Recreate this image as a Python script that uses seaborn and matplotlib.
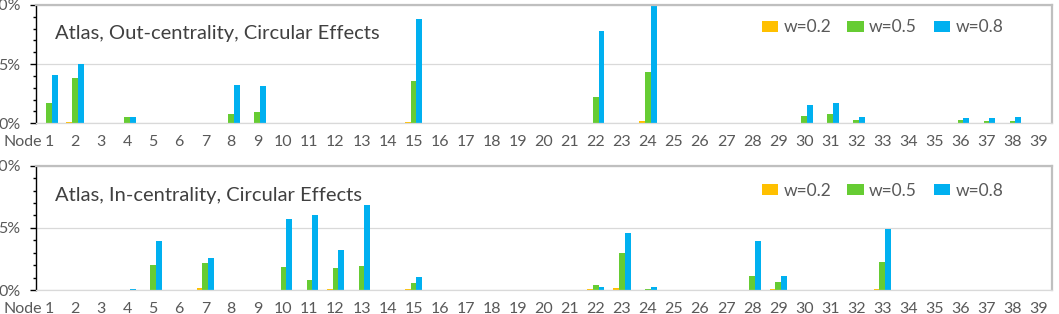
import numpy as np
import pandas as pd
import seaborn as sns
import matplotlib.pyplot as plt
from matplotlib.patches import Patch
from matplotlib.ticker import MultipleLocator, FuncFormatter

nodes = list(range(1, 40))
weights = ['w=0.2', 'w=0.5', 'w=0.8']
colors = ['#FFC000', '#66CC33', '#00B0F0']

# out-centrality, values in percent
out_w02 = [0, 0.14, 0, 0, 0, 0, 0, 0, 0, 0, 0, 0.03, 0, 0, 0.10, 0, 0, 0.02, 0, 0,
           0, 0.03, 0, 0.20, 0, 0, 0.02, 0, 0, 0, 0, 0, 0, 0, 0, 0, 0.05, 0, 0]
out_w05 = [1.75, 3.83, 0, 0.54, 0, 0, 0, 0.82, 0.99, 0, 0, 0, 0, 0, 3.58, 0, 0, 0, 0, 0,
           0, 2.25, 0, 4.37, 0, 0, 0, 0, 0, 0.65, 0.76, 0.31, 0, 0, 0, 0.25, 0.17, 0.20, 0]
out_w08 = [4.06, 5.04, 0.05, 0.54, 0.04, 0.04, 0.05, 3.21, 3.15, 0.02, 0.03, 0.02, 0, 0.02, 8.82,
           0.03, 0, 0.02, 0.03, 0, 0, 7.83, 0, 10.0, 0.04, 0, 0.03, 0, 0.03, 1.58, 1.75, 0.54,
           0, 0.04, 0.04, 0.48, 0.45, 0.54, 0.03]

# in-centrality, values in percent
in_w02 = [0.04, 0, 0.03, 0, 0.05, 0.03, 0.16, 0, 0, 0.06, 0, 0.08, 0, 0, 0.10, 0.03, 0, 0.04, 0, 0,
          0, 0.10, 0.16, 0.03, 0, 0, 0.03, 0.05, 0.10, 0, 0, 0, 0.13, 0, 0, 0, 0, 0, 0]
in_w05 = [0, 0, 0, 0, 2.00, 0, 2.22, 0, 0, 1.90, 0.86, 1.79, 1.95, 0, 0.56, 0, 0, 0, 0, 0,
          0, 0.43, 3.02, 0.10, 0, 0, 0, 1.12, 0.67, 0, 0, 0, 2.30, 0, 0, 0, 0, 0, 0]
in_w08 = [0.03, 0.03, 0.05, 0.07, 3.96, 0.05, 2.59, 0, 0, 5.72, 6.04, 3.24, 6.82, 0, 1.10, 0.06,
          0, 0.03, 0, 0.03, 0, 0.27, 4.63, 0.24, 0, 0, 0.04, 3.98, 1.18, 0.05, 0.03, 0, 4.95,
          0.04, 0, 0.04, 0, 0, 0]

panels = [
    ('Atlas, Out-centrality, Circular Effects', [out_w02, out_w05, out_w08]),
    ('Atlas, In-centrality, Circular Effects', [in_w02, in_w05, in_w08]),
]

plt.rcParams['font.family'] = ['Lato', 'DejaVu Sans']

fig = plt.figure(figsize=(10.59, 3.14), dpi=100)
axes_pos = [[0.034, 0.6075, 0.959, 0.3768], [0.034, 0.0755, 0.959, 0.397]]
node_y = [1 - 142 / 314, 1 - 309 / 314]
legend_y = [0.81, 0.80]

for (title, series), pos, ny, ly in zip(panels, axes_pos, node_y, legend_y):
    ax = fig.add_axes(pos)
    df = pd.DataFrame({
        'node': np.tile(nodes, 3),
        'value': np.concatenate(series),
        'w': np.repeat(weights, len(nodes)),
    })
    sns.barplot(data=df, x='node', y='value', hue='w', palette=colors,
                width=0.66, saturation=1, ax=ax, errorbar=None, legend=False)
    ax.set_ylim(0, 10)
    ax.set_xlim(-0.5, 38.5)
    ax.set_xlabel('')
    ax.set_ylabel('')
    ax.yaxis.set_major_locator(MultipleLocator(5))
    ax.yaxis.set_minor_locator(MultipleLocator(1))
    ax.yaxis.set_major_formatter(FuncFormatter(lambda v, p: f'{v:.0f}%'))
    ax.tick_params(axis='y', which='major', length=4, width=1, pad=7,
                   labelsize=11.5, labelcolor='#595959')
    ax.tick_params(axis='y', which='minor', length=2.5, width=1)
    ax.tick_params(axis='x', length=0, pad=8.5, labelsize=11.5, labelcolor='#595959')
    ax.grid(axis='y', which='major', color='#D9D9D9', lw=0.9)
    ax.set_axisbelow(True)
    for side in ['top', 'right']:
        ax.spines[side].set_color('#BFBFBF')
        ax.spines[side].set_linewidth(1.6)
    ax.spines['bottom'].set_color('#D9D9D9')
    ax.spines['bottom'].set_linewidth(0.9)
    ax.spines['left'].set_color('black')
    ax.spines['left'].set_linewidth(1)
    ax.text(0.0187, 0.76, title, transform=ax.transAxes, fontsize=14.5,
            color='#404040', va='center', ha='left')
    handles = [Patch(facecolor=c, linewidth=0) for c in colors]
    ax.legend(handles, weights, loc='center left', bbox_to_anchor=(0.699, ly),
              ncol=3, frameon=False, fontsize=12.5, handlelength=0.95, handleheight=0.65,
              handletextpad=0.3, columnspacing=0.95, labelcolor='#595959')
    fig.text(22.5 / 1059, ny, 'Node', fontsize=11.5, color='#595959', ha='center', va='center')

fig.savefig('out.png', dpi=100)
